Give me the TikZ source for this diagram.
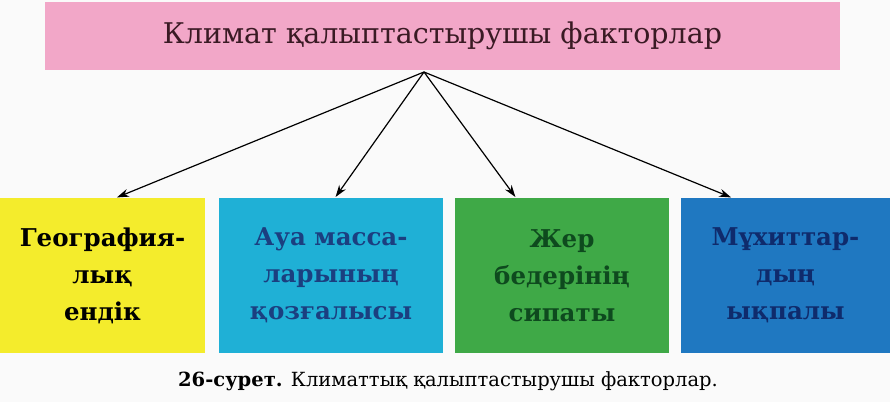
\documentclass[tikz,border=0pt]{standalone}
\usepackage{fontspec}
\setmainfont{DejaVu Serif}
\usetikzlibrary{arrows.meta}

\definecolor{titlepink}{HTML}{F2A7C8}
\definecolor{titleink}{HTML}{3A1A24}
\definecolor{geoyellow}{HTML}{F4EC2C}
\definecolor{airblue}{HTML}{1FB0D6}
\definecolor{airink}{HTML}{1B3F80}
\definecolor{landgreen}{HTML}{3FA947}
\definecolor{landink}{HTML}{0E4A1E}
\definecolor{seablue}{HTML}{1F78C1}
\definecolor{seaink}{HTML}{0F2B6C}

\def\boxrow{126.5}    % centre line of the lower boxes
\def\boxh{155}        % height of the lower boxes

\tikzset{
  factorbox/.style = {inner sep=0pt, minimum height=\boxh pt, align=center,
                      font=\bfseries\fontsize{24.5}{37}\selectfont},
  factorarrow/.style = {-{Stealth[length=12pt,width=8pt]}, line width=1.2pt,
                        black, shorten >=1pt},
}

\begin{document}
\begin{tikzpicture}[x=1pt, y=1pt]
  \useasboundingbox (0,0) rectangle (890,402);
  \fill[white!98!black] (0,0) rectangle (890,402);

  % Title box
  \node[fill=titlepink, text=titleink, inner sep=0pt,
        minimum width=795pt, minimum height=68pt,
        font=\fontsize{28.5}{32}\selectfont] (title) at (442.5,366)
    {Климат қалыптастырушы факторлар};
  \coordinate (hub) at (424,330);

  % Factor boxes
  \node[factorbox, minimum width=205pt, fill=geoyellow, text=black]
    (geo) at (102.5,\boxrow) {География-\\лық\\ендік};
  \node[factorbox, minimum width=224pt, fill=airblue, text=airink]
    (air) at (331,\boxrow) {Ауа масса-\\ларының\\қозғалысы};
  \node[factorbox, minimum width=214pt, fill=landgreen, text=landink]
    (land) at (562,\boxrow) {Жер\\бедерінің\\сипаты};
  \node[factorbox, minimum width=209pt, fill=seablue, text=seaink]
    (sea) at (785.5,\boxrow) {Мұхиттар-\\дың\\ықпалы};

  % Arrows from the title to each box
  \foreach \target/\shift in {geo/13.5, air/4, land/-46, sea/-53.5}
    \draw[factorarrow] (hub) -- ([xshift=\shift pt]\target.north);

  % Caption
  \node[font=\fontsize{19.5}{22}\selectfont] (caption) at (448,21)
    {\textbf{26-сурет.} Климаттық қалыптастырушы факторлар.};
\end{tikzpicture}
\end{document}
